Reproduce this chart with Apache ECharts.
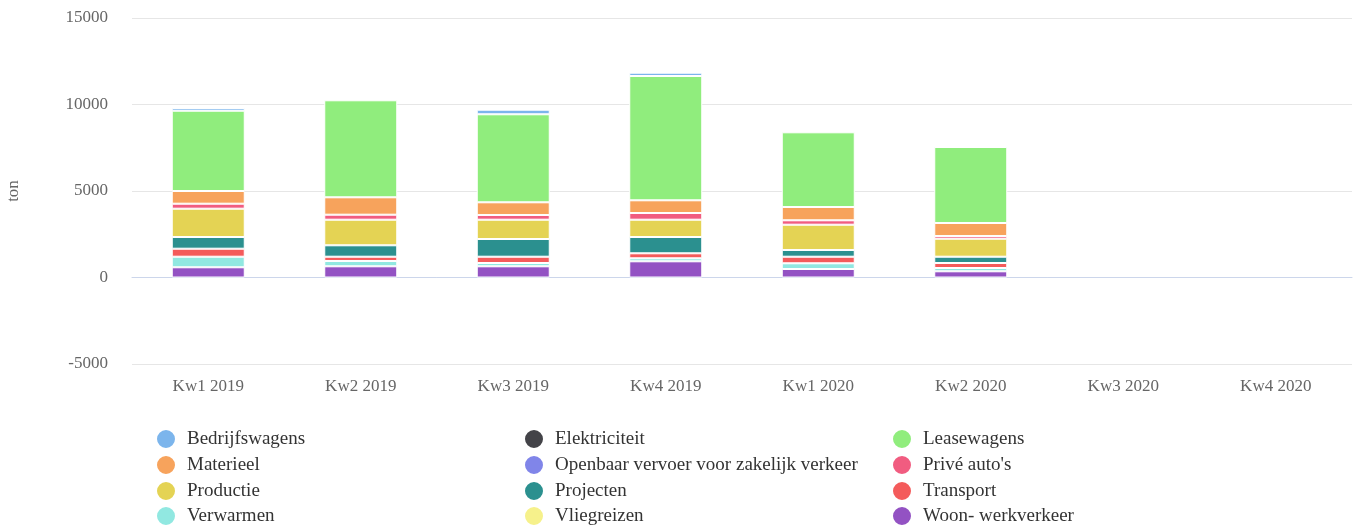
<!DOCTYPE html>
<html>
<head>
<meta charset="utf-8">
<script src="https://cdn.jsdelivr.net/npm/echarts@6/dist/echarts.min.js"></script>
<style>
  html, body { margin: 0; padding: 0; background: #fff; }
  #chart { width: 1356px; height: 526px; }
</style>
</head>
<body>
<div id="chart"></div>
<script>
const categories = ['Kw1 2019', 'Kw2 2019', 'Kw3 2019', 'Kw4 2019', 'Kw1 2020', 'Kw2 2020', 'Kw3 2020', 'Kw4 2020']
const yTicks = [-5000, 0, 5000, 10000, 15000]

// tonnen per categorie, per kwartaal
const bedrijfswagens = [156, null, 266, 191, null, null, null, null]
const elektriciteit = [null, null, null, null, null, null, null, null]
const leasewagens = [4642, 5607, 5087, 7185, 4318, 4393, null, null]
const materieel = [734, 1006, 734, 734, 769, 751, null, null]
const openbaarVervoer = [null, null, null, null, null, null, null, null]
const priveAutos = [289, 289, 272, 387, 254, 156, null, null]
const productie = [1636, 1480, 1116, 1000, 1462, 1041, null, null]
const projecten = [676, 659, 1023, 942, 388, 364, null, null]
const transport = [463, 248, 364, 289, 381, 289, null, null]
const verwarmen = [612, 307, 191, 174, 330, 191, null, null]
const vliegreizen = [null, null, null, null, null, null, null, null]
const woonWerkverkeer = [590, 647, 647, 936, 491, 358, null, null]

const seriesDefs = [
  { name: 'Bedrijfswagens', data: bedrijfswagens, color: '#7cb5ec' },
  { name: 'Elektriciteit', data: elektriciteit, color: '#434348' },
  { name: 'Leasewagens', data: leasewagens, color: '#90ed7d' },
  { name: 'Materieel', data: materieel, color: '#f7a35c' },
  { name: 'Openbaar vervoer voor zakelijk verkeer', data: openbaarVervoer, color: '#8085e9' },
  { name: "Privé auto's", data: priveAutos, color: '#f15c80' },
  { name: 'Productie', data: productie, color: '#e4d354' },
  { name: 'Projecten', data: projecten, color: '#2b908f' },
  { name: 'Transport', data: transport, color: '#f45b5b' },
  { name: 'Verwarmen', data: verwarmen, color: '#91e8e1' },
  { name: 'Vliegreizen', data: vliegreizen, color: '#f6f18b' },
  { name: 'Woon- werkverkeer', data: woonWerkverkeer, color: '#9352c3' },
]

const FONT = "'Liberation Serif', 'DejaVu Serif', serif"

// first legend entry sits on top of the stack, so stack in reverse
const series = seriesDefs.slice().reverse().map((s) => ({
  name: s.name,
  type: 'bar',
  stack: 'total',
  data: s.data,
  barWidth: 73,
  itemStyle: { color: s.color, borderColor: '#fff', borderWidth: 1 },
  emphasis: { disabled: true },
}))

// legend: 3 columns, filled row by row
const legendCols = [155, 523, 891]
const legendRows = [438, 464, 490, 515]
const legends = seriesDefs.map((s, i) => ({
  orient: 'horizontal',
  left: legendCols[i % 3],
  top: legendRows[Math.floor(i / 3)] - 10,
  icon: 'circle',
  itemWidth: 32,
  itemHeight: 20,
  padding: 0,
  selectedMode: false,
  textStyle: { fontFamily: FONT, fontSize: 19, color: '#333' },
  data: [s.name],
}))

const chart = echarts.init(document.getElementById('chart'))
chart.setOption({
  animation: false,
  color: seriesDefs.map((s) => s.color),
  grid: { left: 132, right: 4, top: 18, bottom: 162, containLabel: false, outerBoundsMode: 'none' },
  legend: legends,
  xAxis: {
    type: 'category',
    data: categories,
    axisLine: { lineStyle: { color: '#ccd6eb' } },
    axisTick: { show: false },
    axisLabel: { fontFamily: FONT, fontSize: 17, color: '#666', margin: 14 },
  },
  yAxis: {
    type: 'value',
    min: yTicks[0],
    max: yTicks[yTicks.length - 1],
    interval: 5000,
    name: 'ton',
    nameLocation: 'middle',
    nameRotate: 90,
    nameGap: 110,
    nameTextStyle: { fontFamily: FONT, fontSize: 17, color: '#666' },
    axisLine: { show: false },
    axisTick: { show: false },
    axisLabel: {
      fontFamily: FONT,
      fontSize: 17,
      color: '#666',
      margin: 24,
      formatter: (v) => String(v),
    },
    splitLine: { lineStyle: { color: '#e6e6e6' } },
  },
  series,
})
</script>
</body>
</html>
